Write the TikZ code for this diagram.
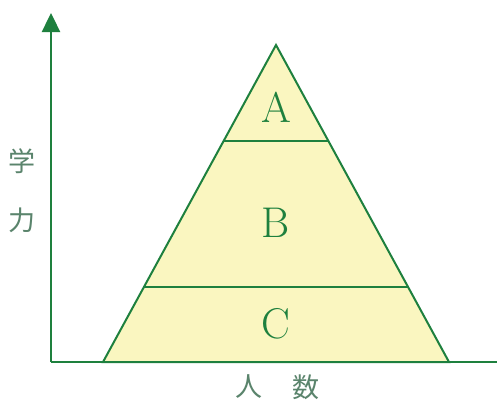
\documentclass[tikz,border=0pt]{standalone}
\usepackage{fontspec}
\newfontfamily\jpfont{Noto Sans CJK JP}
\usetikzlibrary{arrows.meta}
\definecolor{lgreen}{RGB}{30,128,62}
\definecolor{tgray}{RGB}{90,132,108}
\definecolor{pyellow}{RGB}{250,246,192}
\begin{document}
\begin{tikzpicture}[x=1pt,y=-1pt,
  axis/.style={draw=lgreen,line width=2.4pt},
  band/.style={draw=lgreen,line width=2pt,line join=miter},
  letter/.style={text=lgreen,font=\fontsize{43}{43}\selectfont,inner sep=0pt},
  jp/.style={text=tgray,font=\jpfont\fontsize{27}{27}\selectfont,inner sep=0pt}]
\useasboundingbox (0,0) rectangle (497,400);
\fill[white] (0,0) rectangle (497,400);
% pyramid
\coordinate (apex) at (276,45);
\coordinate (bl) at (103,362);
\coordinate (br) at (449,362);
\fill[pyellow] (apex) -- (bl) -- (br) -- cycle;
\draw[band] (apex) -- (bl) -- (br) -- cycle;
\draw[band] (223.6,141) -- (328.4,141);
\draw[band] (143.9,287) -- (408.1,287);
% axes
\coordinate (o) at (51,362);
\coordinate (ytop) at (51,13);
\coordinate (xend) at (497,362);
\draw[axis,-{Triangle[width=18pt,length=19pt]}] (o) -- (ytop);
\draw[axis] (o) -- (xend);
% labels
\node[letter] (A) at (276,107) {A};
\node[letter] (B) at (276,223) {B};
\node[letter] (C) at (276,324) {C};
\node[jp] (gaku) at (22,161) {学};
\node[jp] (ryoku) at (22,220) {力};
\node[jp] (nin) at (249,387) {人};
\node[jp] (suu) at (306,387) {数};
\end{tikzpicture}
\end{document}
